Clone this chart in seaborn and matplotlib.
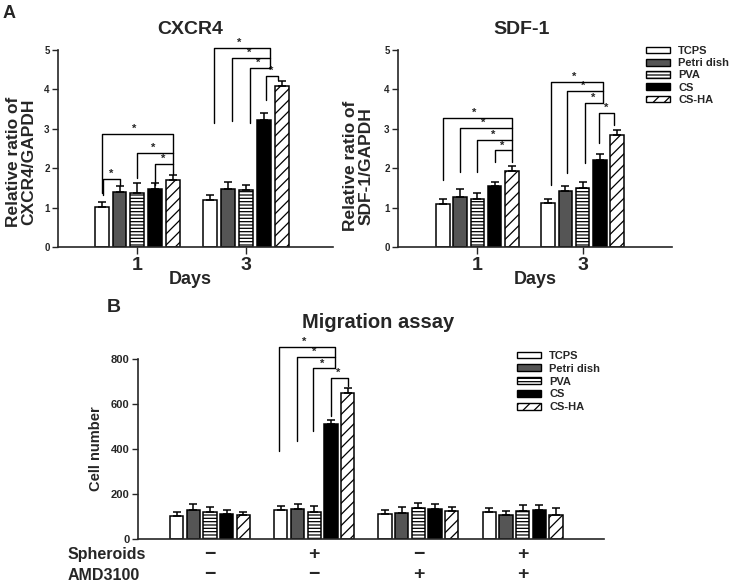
import numpy as np
import pandas as pd
import seaborn as sns
import matplotlib.pyplot as plt
from matplotlib.patches import Patch
from matplotlib import transforms

sns.set_style("ticks")
plt.rcParams['font.family'] = ['Liberation Sans', 'DejaVu Sans']
plt.rcParams['font.weight'] = 'bold'
plt.rcParams['axes.labelweight'] = 'bold'
plt.rcParams['hatch.linewidth'] = 0.9

# data
materials = ["TCPS", "Petri dish", "PVA", "CS", "CS-HA"]
days = ["1", "3"]

cxcr4_day1 = [1.02, 1.40, 1.36, 1.48, 1.69]
cxcr4_day3 = [1.20, 1.48, 1.44, 3.22, 4.08]
cxcr4_err_day1 = [0.12, 0.14, 0.27, 0.15, 0.15]
cxcr4_err_day3 = [0.13, 0.16, 0.14, 0.17, 0.13]

sdf1_day1 = [1.08, 1.27, 1.23, 1.54, 1.93]
sdf1_day3 = [1.12, 1.42, 1.50, 2.22, 2.84]
sdf1_err_day1 = [0.13, 0.19, 0.14, 0.11, 0.13]
sdf1_err_day3 = [0.11, 0.13, 0.15, 0.13, 0.14]

conditions = ["-/-", "+/-", "-/+", "+/+"]
spheroids = ["\u2212", "+", "\u2212", "+"]
amd3100 = ["\u2212", "\u2212", "+", "+"]
migration_mean = [
    [101, 130, 120, 111, 105],
    [130, 133, 122, 510, 651],
    [112, 115, 140, 133, 125],
    [121, 106, 125, 131, 107],
]
migration_err = [
    [20, 24, 22, 16, 14],
    [17, 22, 24, 17, 18],
    [19, 27, 22, 22, 17],
    [18, 18, 28, 22, 29],
]

face_colors = {"TCPS": "white", "Petri dish": "#555555", "PVA": "white",
               "CS": "black", "CS-HA": "white"}
hatches = ["", "", "-----", "", "///"]

fig = plt.figure(figsize=(7.32, 5.83), dpi=100)
W, H = 732, 583


def px_box(left, top, right, bottom):
    return [left / W, 1 - bottom / H, (right - left) / W, (bottom - top) / H]


def draw_bars(ax, groups, means, errs, width, gap):
    df = pd.DataFrame({
        "group": np.repeat(groups, len(materials)),
        "material": materials * len(groups),
        "value": np.concatenate(means),
    })
    sns.barplot(data=df, x="group", y="value", hue="material", order=groups,
                hue_order=materials, palette=face_colors, saturation=1,
                width=width, gap=gap, edgecolor="black", linewidth=1.1,
                errorbar=None, legend=False, ax=ax)
    centers = np.zeros((len(groups), len(materials)))
    for m, (cont, hatch) in enumerate(zip(ax.containers, hatches)):
        for g, bar in enumerate(cont):
            bar.set_hatch(hatch)
            centers[g, m] = bar.get_x() + bar.get_width() / 2
    vals = np.concatenate(means)
    ax.errorbar(centers.ravel(), vals, yerr=[np.zeros(len(vals)), np.concatenate(errs)],
                fmt='none', ecolor='black', elinewidth=1.1, capsize=3, capthick=1.1,
                zorder=3)
    sns.despine(ax=ax)
    for sp in ax.spines.values():
        sp.set_linewidth(1.2)
    return centers


def draw_brackets(ax, centers, specs, fs=8):
    slot = centers[0, 1] - centers[0, 0]
    for g, lm, loff, rm, roff, top, lb, rb in specs:
        x0 = centers[g, lm] + loff * slot
        x1 = centers[g, rm] + roff * slot
        ax.plot([x0, x0, x1, x1], [lb, top, top, rb], color='black', lw=1.0,
                clip_on=False, zorder=4)
        ax.text(x0 + 0.45 * (x1 - x0), top, '*', ha='center', va='bottom',
                fontsize=fs, clip_on=False)


def style_panel_a(ax, ylabel, label_x, label_y, days_x):
    ax.set_ylim(0, 5)
    ax.set_yticks(range(6))
    ax.tick_params(axis='y', length=4, width=1, labelsize=7, pad=2)
    ax.tick_params(axis='x', length=5, width=1, labelsize=14, pad=2)
    ax.set_ylabel(ylabel, fontsize=12.5, linespacing=1.0)
    ax.yaxis.set_label_coords(label_x, label_y)
    ax.set_xlabel("Days", fontsize=13, va='top')
    ax.xaxis.set_label_coords(days_x, -0.12)


# Panel A left: CXCR4
ax1 = fig.add_axes(px_box(58, 50, 333, 247))
c1 = draw_bars(ax1, days, [cxcr4_day1, cxcr4_day3], [cxcr4_err_day1, cxcr4_err_day3], 0.82, 0.22)
ax1.set_xlim(-0.73, 1.80)
style_panel_a(ax1, "Relative ratio of\nCXCR4/GAPDH", -0.08, 0.43, 0.48)
draw_brackets(ax1, c1, [
    (0, 0, 0, 4, 0, 2.88, 1.36, 1.85),
    (0, 2, 0, 4, 0, 2.38, 1.75, 2.38),
    (0, 3, 0, 4, 0, 2.10, 1.57, 2.10),
    (0, 0, 0.1, 1, 0, 1.73, 1.32, 1.57),
    (1, 0, 0.2, 3, 0.33, 5.05, 3.15, 4.54),
    (1, 1, 0.2, 3, 0.33, 4.80, 3.20, 4.80),
    (1, 2, 0.2, 3, 0.33, 4.54, 3.15, 4.54),
    (1, 3, 0.1, 4, -0.2, 4.34, 3.73, 4.25),
])

# Panel A right: SDF-1
ax2 = fig.add_axes(px_box(398, 50, 672, 247))
c2 = draw_bars(ax2, days, [sdf1_day1, sdf1_day3], [sdf1_err_day1, sdf1_err_day3], 0.82, 0.22)
ax2.set_xlim(-0.755, 1.85)
style_panel_a(ax2, "Relative ratio of\nSDF-1/GAPDH", -0.09, 0.41, 0.5)
draw_brackets(ax2, c2, [
    (0, 0, 0, 4, 0, 3.27, 1.70, 2.16),
    (0, 1, 0, 4, 0, 3.03, 1.90, 3.03),
    (0, 2, 0, 4, 0, 2.72, 1.90, 2.72),
    (0, 3, 0, 4, 0, 2.45, 2.16, 2.45),
    (1, 0, 0.15, 3, 0.16, 4.20, 1.57, 3.65),
    (1, 1, 0.12, 3, 0.16, 3.96, 1.87, 3.96),
    (1, 2, 0.14, 3, 0.16, 3.65, 2.12, 3.65),
    (1, 3, -0.05, 4, -0.18, 3.40, 2.63, 3.10),
])

# Panel B: migration assay
ax3 = fig.add_axes(px_box(138, 359, 604, 539))
c3 = draw_bars(ax3, conditions, migration_mean, migration_err, 0.8, 0.2)
ax3.set_xlim(-0.69, 3.78)
ax3.set_ylim(0, 800)
ax3.set_yticks(range(0, 801, 200))
ax3.tick_params(axis='y', length=4, width=1, labelsize=8, pad=2)
ax3.set_xticks([])
ax3.set_xlabel("")
ax3.set_ylabel("Cell number", fontsize=10.5)
ax3.yaxis.set_label_coords(-0.075, 0.5)
draw_brackets(ax3, c3, [
    (1, 0, -0.1, 3, 0.25, 855, 390, 758),
    (1, 1, -0.05, 3, 0.25, 810, 435, 810),
    (1, 2, -0.1, 3, 0.25, 758, 480, 758),
    (1, 3, 0, 4, 0, 715, 547, 680),
])

trans = transforms.blended_transform_factory(ax3.transData, fig.transFigure)
for row_y, row_name, signs in [(555, "Spheroids", spheroids), (575, "AMD3100", amd3100)]:
    fig.text(68 / W, 1 - row_y / H, row_name, ha='left', va='center', fontsize=11.5)
    for i, s in enumerate(signs):
        ax3.text(i, 1 - row_y / H, s, transform=trans, ha='center', va='center', fontsize=14)

# titles and panel letters
fig.text(190 / W, 1 - 30 / H, "CXCR4", ha='center', va='center', fontsize=14)
fig.text(522 / W, 1 - 30 / H, "SDF-1", ha='center', va='center', fontsize=14)
fig.text(378 / W, 1 - 322 / H, "Migration assay", ha='center', va='center', fontsize=14.5)
fig.text(9 / W, 1 - 13 / H, "A", ha='center', va='center', fontsize=13)
fig.text(114 / W, 1 - 308 / H, "B", ha='center', va='center', fontsize=14)

# legends
handles = [Patch(facecolor=face_colors[m], edgecolor='black', hatch=h, linewidth=1.0)
           for m, h in zip(materials, hatches)]
leg_kw = dict(loc='upper left', frameon=False, fontsize=8, handlelength=2.2,
              handleheight=0.55, handletextpad=0.7, borderpad=0, borderaxespad=0)
fig.legend(handles, materials, bbox_to_anchor=(646 / W, 1 - 46 / H), labelspacing=0.2, **leg_kw)
fig.legend(handles, materials, bbox_to_anchor=(517 / W, 1 - 351 / H), labelspacing=0.25, **leg_kw)

fig.savefig("out.png", dpi=100)
